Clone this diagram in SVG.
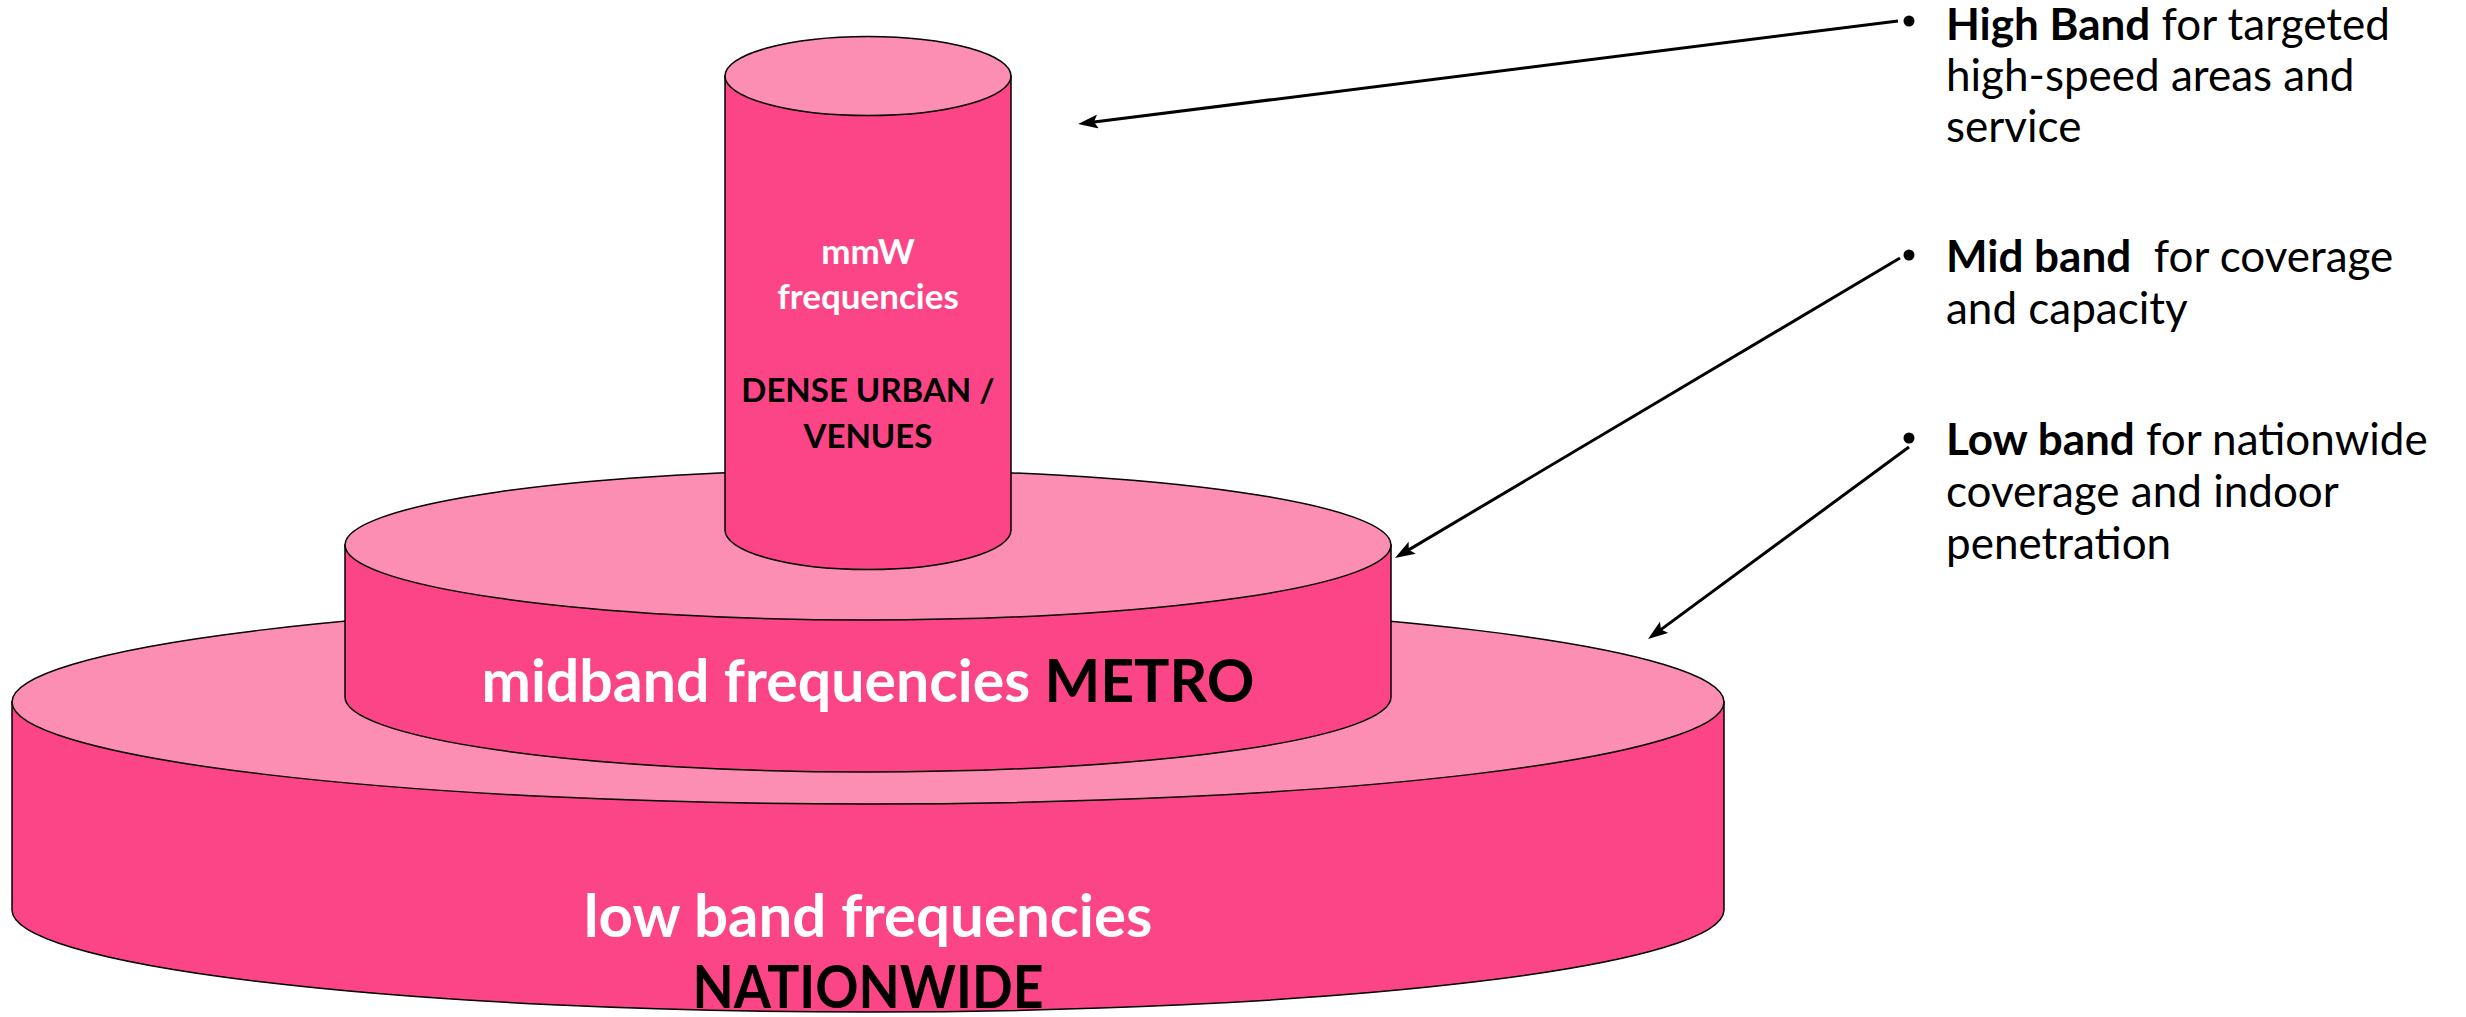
<svg xmlns="http://www.w3.org/2000/svg" width="2466" height="1017" viewBox="0 0 2466 1017">
<style>
.side{fill:#FC4587;stroke:#000;stroke-width:1.5}
.top{fill:#FC8DB3;stroke:#000;stroke-width:1.5}
.lbl{font-family:Lato,"Open Sans",sans-serif;font-weight:bold;text-anchor:middle}
.w{fill:#fff}
.k{fill:#000}
.note{font-family:Lato,"Open Sans",sans-serif;font-size:44px;fill:#000}
.b{font-weight:bold}
.dot{fill:#000}
.conn{stroke:#000;stroke-width:3;fill:none}
</style>
<defs>
<marker id="ah" markerUnits="userSpaceOnUse" markerWidth="20" markerHeight="14" viewBox="0 0 20 14" refX="10" refY="7" orient="auto">
<path d="M0,0 L20,7 L0,14 L4,7 Z" fill="#000"/>
</marker>
</defs>
<g id="low-band">
<path class="side" d="M12,702 V910 A856,102 0 0 0 1724,910 V702 Z"/>
<ellipse class="top" cx="868" cy="702" rx="856" ry="102"/>
</g>
<g id="mid-band">
<path class="side" d="M345,545 V697 A523,75 0 0 0 1391,697 V545 Z"/>
<ellipse class="top" cx="868" cy="545" rx="523" ry="75"/>
</g>
<g id="high-band">
<path class="side" d="M725,76 V530 A143,39.5 0 0 0 1011,530 V76 Z"/>
<ellipse class="top" cx="868" cy="76" rx="143" ry="39.5"/>
</g>
<g id="labels">
<text class="lbl w" x="868" y="264" font-size="35">mmW</text>
<text class="lbl w" x="868" y="309" font-size="35">frequencies</text>
<text class="lbl k" x="868" y="402" font-size="33">DENSE URBAN /</text>
<text class="lbl k" x="868" y="448" font-size="33">VENUES</text>
<text class="lbl" x="868" y="702" font-size="59"><tspan class="w">midband frequencies </tspan><tspan class="k">METRO</tspan></text>
<text class="lbl w" x="868" y="937" font-size="60">low band frequencies</text>
<text class="lbl k" x="868" y="1008" font-size="60" textLength="351" lengthAdjust="spacingAndGlyphs">NATIONWIDE</text>
</g>
<g id="notes">
<circle class="dot" cx="1909" cy="21" r="5.5"/>
<text class="note" x="1946" y="40"><tspan class="b">High Band</tspan> for targeted</text>
<text class="note" x="1946" y="91">high-speed areas and</text>
<text class="note" x="1946" y="142">service</text>
<circle class="dot" cx="1909" cy="255" r="5.5"/>
<text class="note" x="1946" y="272" xml:space="preserve"><tspan class="b">Mid band</tspan>  for coverage</text>
<text class="note" x="1946" y="324">and capacity</text>
<circle class="dot" cx="1909" cy="438" r="5.5"/>
<text class="note" x="1946" y="455"><tspan class="b">Low band</tspan> for nationwide</text>
<text class="note" x="1946" y="507">coverage and indoor</text>
<text class="note" x="1946" y="559">penetration</text>
</g>
<g id="connectors">
<line class="conn" x1="1898" y1="21" x2="1088" y2="122.75" marker-end="url(#ah)"/>
<line class="conn" x1="1900" y1="258" x2="1403.6" y2="552.9" marker-end="url(#ah)"/>
<line class="conn" x1="1909" y1="447" x2="1656.1" y2="633.1" marker-end="url(#ah)"/>
</g>
</svg>
